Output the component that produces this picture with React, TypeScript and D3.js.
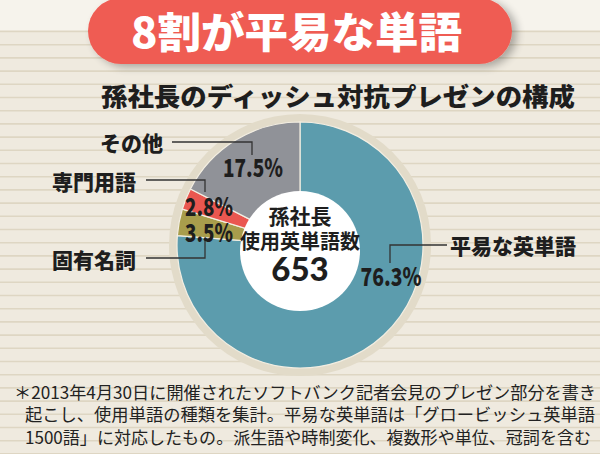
import React from "react";
import * as d3 from "d3";

const categories = ["平易な英単語", "固有名詞", "専門用語", "その他"];
const values = [76.3, 3.5, 2.8, 17.5];
const valueLabels = ["76.3%", "3.5%", "2.8%", "17.5%"];
const sliceColors = ["#5c9cad", "#a89d4c", "#ea5750", "#909298"];
const titleText = "8割が平易な単語";
const subtitleText = "孫社長のディッシュ対抗プレゼンの構成";
const centerLines = ["孫社長", "使用英単語数"];
const centerValue = "653";
const footnoteLines = [
  "＊2013年4月30日に開催されたソフトバンク記者会見のプレゼン部分を書き",
  "起こし、使用単語の種類を集計。平易な英単語は「グロービッシュ英単語",
  "1500語」に対応したもの。派生語や時制変化、複数形や単位、冠詞を含む",
];

const W = 600;
const H = 454;
const cx = 300;
const cy = 245;
const R = 123;

// layout for labels (index matches categories)
const labelLayout = [
  { lx: 450, ly: 246, line: [[447, 245], [390, 245], [390, 263]], px: 391, py: 277, pw: 61 },
  { lx: 52, ly: 260, line: [[146, 258], [205, 258], [205, 238]], px: 209, py: 233, pw: 48 },
  { lx: 52, ly: 182, line: [[146, 180], [205, 180], [205, 192]], px: 209, py: 207, pw: 48 },
  { lx: 100, ly: 143, line: [[172, 142], [252, 142], [252, 155]], px: 253, py: 168, pw: 60 },
];

const JP = "'Noto Sans CJK JP', 'Noto Sans', sans-serif";

export default function App() {
  const pie = d3.pie<number>().sort(null).value((d) => d).startAngle(0).endAngle(2 * Math.PI);
  const arcs = pie(values);
  const arc = d3.arc<d3.PieArcDatum<number>>().innerRadius(0).outerRadius(R);

  const stripes: number[] = [];
  for (let y = 31.5; y < H; y += 13.2) stripes.push(y);

  return (
    <svg width={W} height={H} style={{ position: "absolute", left: 0, top: 0, display: "block" }}>
      <defs>
        <filter id="shadow" x="-10%" y="-30%" width="130%" height="170%">
          <feGaussianBlur in="SourceAlpha" stdDeviation="4" />
          <feOffset dx="5" dy="3" result="b" />
          <feComponentTransfer>
            <feFuncA type="linear" slope="0.3" />
          </feComponentTransfer>
          <feMerge>
            <feMergeNode />
            <feMergeNode in="SourceGraphic" />
          </feMerge>
        </filter>
      </defs>
      <rect x={0} y={0} width={W} height={H} fill="#efeadf" />
      <rect x={0} y={0} width={W} height={30} fill="#f6f3ec" />
      {stripes.map((y, i) => (
        <line key={i} x1={0} x2={W} y1={y} y2={y} stroke="#ded6c3" strokeWidth={1.6} />
      ))}

      {/* title pill */}
      <rect x={88} y={-2} width={424} height={66} rx={33} fill="#ef5b52" filter="url(#shadow)" />
      <text x={131} y={48} fill="#ffffff" fontFamily={JP} fontWeight={900} fontSize={42} textLength={331} lengthAdjust="spacingAndGlyphs">
        {titleText}
      </text>

      <text x={101} y={106} fill="#1e1e1e" fontFamily={JP} fontWeight={900} fontSize={25} textLength={474} lengthAdjust="spacingAndGlyphs">
        {subtitleText}
      </text>

      {/* pie */}
      <circle cx={cx} cy={cy} r={R + 8} fill="#e2dbc9" />
      <g transform={`translate(${cx},${cy})`}>
        {arcs.map((a, i) => (
          <path key={i} d={arc(a) || ""} fill={sliceColors[i]} stroke="#f3eee2" strokeWidth={1.2} />
        ))}
      </g>
      <circle cx={cx} cy={cy + 6} r={60} fill="#ffffff" />

      {/* leader lines + labels */}
      {labelLayout.map((l, i) => (
        <g key={i}>
          <polyline points={l.line.map((p) => p.join(",")).join(" ")} fill="none" stroke="#333" strokeWidth={1.3} />
          <text x={l.lx} y={l.ly + 8} fill="#1e1e1e" fontFamily={JP} fontWeight={900} fontSize={21}>
            {categories[i]}
          </text>
          <text
            x={l.px - l.pw / 2}
            y={l.py + 9}
            fill="#1e1e1e"
            fontFamily={JP}
            fontWeight={900}
            fontSize={25}
            textLength={l.pw}
            lengthAdjust="spacingAndGlyphs"
          >
            {valueLabels[i]}
          </text>
        </g>
      ))}

      {/* center text */}
      <text x={cx} y={224} textAnchor="middle" fill="#1e1e1e" fontFamily={JP} fontWeight={700} fontSize={21}>
        {centerLines[0]}
      </text>
      <text x={cx} y={249} textAnchor="middle" fill="#1e1e1e" fontFamily={JP} fontWeight={700} fontSize={20} textLength={120} lengthAdjust="spacingAndGlyphs">
        {centerLines[1]}
      </text>
      <text x={cx} y={281} textAnchor="middle" fill="#1e1e1e" fontFamily="Lato, 'Noto Sans', sans-serif" fontWeight={900} fontSize={33}>
        {centerValue}
      </text>

      {/* footnote */}
      <text x={14} y={399} fill="#222" fontFamily={JP} fontWeight={400} fontSize={17} textLength={582} lengthAdjust="spacingAndGlyphs">
        {footnoteLines[0]}
      </text>
      <text x={25} y={421} fill="#222" fontFamily={JP} fontWeight={400} fontSize={17} textLength={570} lengthAdjust="spacingAndGlyphs">
        {footnoteLines[1]}
      </text>
      <text x={25} y={444} fill="#222" fontFamily={JP} fontWeight={400} fontSize={17} textLength={566} lengthAdjust="spacingAndGlyphs">
        {footnoteLines[2]}
      </text>
    </svg>
  );
}
